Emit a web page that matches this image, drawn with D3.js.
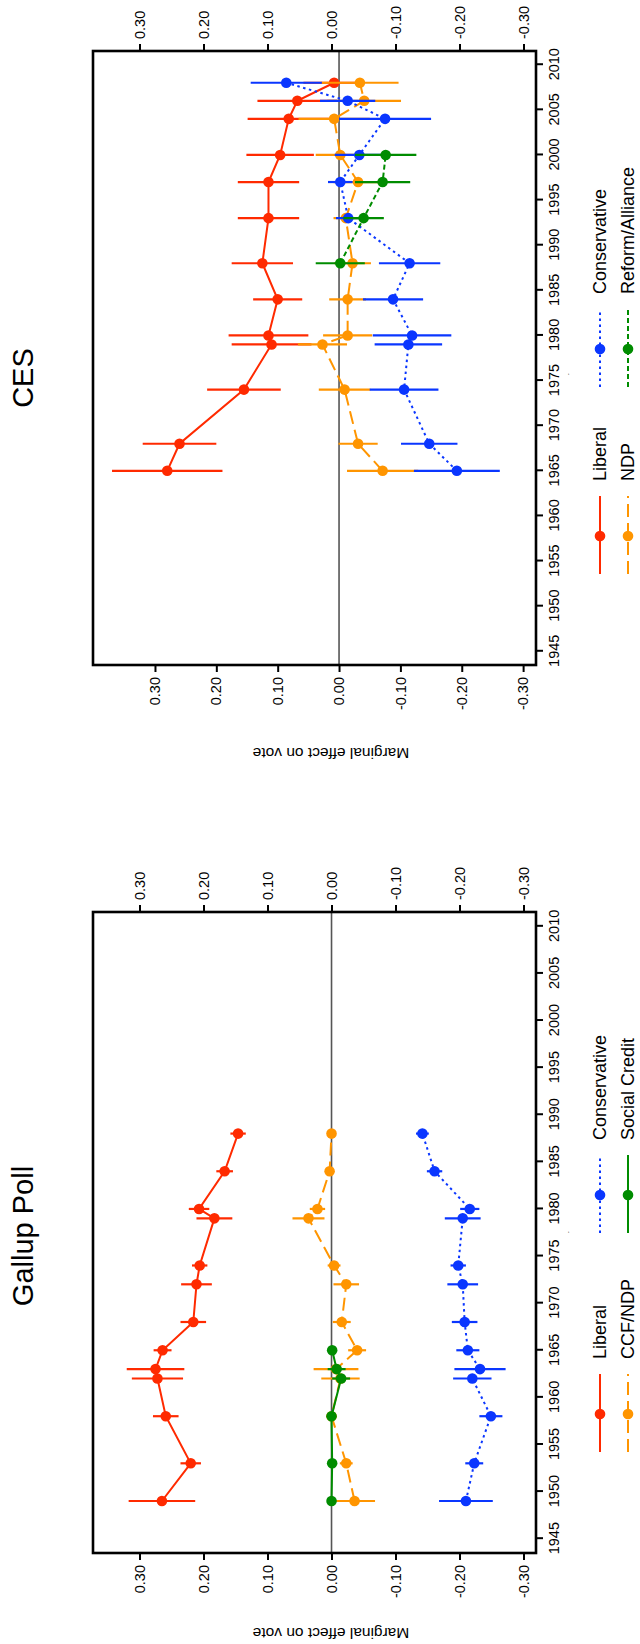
<!DOCTYPE html>
<html>
<head>
<meta charset="utf-8">
<script src="https://cdn.jsdelivr.net/npm/d3@7"></script>
<style>
  html, body { margin: 0; padding: 0; background: #fff; }
  svg { display: block; font-family: "Liberation Sans", Arial, Helvetica, sans-serif; }
</style>
</head>
<body>
<svg id="chart" width="640" height="1644"></svg>
<script>
// The figure is a landscape plot turned a quarter turn counter-clockwise on the page.
// Everything is drawn in landscape coordinates (1644 x 640) inside a rotated group.

// ---- Gallup Poll ----
const galYears = [1949, 1953, 1958, 1962, 1963, 1965, 1968, 1972, 1974, 1979, 1980, 1984, 1988];
const galLiberal   = [0.265, 0.220, 0.259, 0.272, 0.275, 0.264, 0.216, 0.211, 0.206, 0.183, 0.207, 0.167, 0.146];
const galLiberalCI = [0.052, 0.016, 0.020, 0.040, 0.045, 0.014, 0.020, 0.024, 0.012, 0.028, 0.016, 0.013, 0.012];
const galNDP       = [-0.036, -0.023, 0.000, -0.014, -0.007, -0.040, -0.016, -0.023, -0.004, 0.036, 0.022, 0.003, 0.000];
const galNDPCI     = [0.032, 0.010, 0.008, 0.030, 0.035, 0.014, 0.014, 0.020, 0.010, 0.025, 0.012, 0.006, 0.005];
const galCons      = [-0.210, -0.223, -0.249, -0.220, -0.232, -0.213, -0.208, -0.205, -0.198, -0.205, -0.216, -0.161, -0.142];
const galConsCI    = [0.042, 0.014, 0.018, 0.030, 0.040, 0.018, 0.020, 0.024, 0.012, 0.028, 0.015, 0.012, 0.010];
const galSCYears   = [1949, 1953, 1958, 1962, 1963, 1965];
const galSC        = [0.000, -0.001, 0.000, -0.015, -0.008, -0.001];
const galSCCI      = [0.004, 0.004, 0.004, 0.014, 0.014, 0.004];

// ---- CES ----
const cesYears = [1965, 1968, 1974, 1979, 1980, 1984, 1988, 1993, 1997, 2000, 2004, 2006, 2008];
const cesLiberal   = [0.280, 0.260, 0.155, 0.110, 0.115, 0.100, 0.125, 0.115, 0.115, 0.096, 0.082, 0.068, 0.008];
const cesLiberalCI = [0.090, 0.060, 0.060, 0.065, 0.065, 0.040, 0.050, 0.050, 0.050, 0.055, 0.067, 0.065, 0.050];
const cesNDP       = [-0.071, -0.031, -0.009, 0.027, -0.014, -0.014, -0.022, -0.011, -0.031, -0.002, 0.008, -0.041, -0.034];
const cesNDPCI     = [0.058, 0.032, 0.042, 0.040, 0.040, 0.030, 0.030, 0.020, 0.040, 0.040, 0.058, 0.060, 0.063];
const cesCons      = [-0.192, -0.147, -0.106, -0.113, -0.119, -0.088, -0.115, -0.015, -0.002, -0.033, -0.075, -0.014, 0.086];
const cesConsCI    = [0.070, 0.046, 0.056, 0.055, 0.064, 0.049, 0.050, 0.020, 0.020, 0.040, 0.075, 0.045, 0.058];
const cesRefYears  = [1988, 1993, 1997, 2000];
const cesRef       = [-0.002, -0.040, -0.071, -0.076];
const cesRefCI     = [0.040, 0.033, 0.045, 0.050];

const yearTicks  = d3.range(1945, 2011, 5);
const valueTicks = [0.3, 0.2, 0.1, 0.0, -0.1, -0.2, -0.3];

const COLORS = { lib: "#ff2a00", ndp: "#ff9500", cons: "#0a36ff", third: "#008c00" };
const DASH   = { lib: null, ndp: "13,6", cons: "2.5,3.5", sc: null, ref: "5,3" };

const svg = d3.select("#chart");
const root = svg.append("g").attr("transform", "translate(0,1644) rotate(-90)");

function zip(years, est, ci){
  return years.map((yr, i) => ({ year: yr, v: est[i], lo: est[i] - ci[i], hi: est[i] + ci[i] }));
}

function drawPanel(cfg){
  const x = d3.scaleLinear().domain([1943.48, 2011.52]).range(cfg.xRange);
  const y = d3.scaleLinear().domain(cfg.yDomain).range([536, 93]);
  const yRight = d3.scaleLinear().domain(cfg.yRightDomain).range([536, 93]);
  const g = root.append("g");
  const fmt = d => d.toFixed(2);

  // zero reference line
  g.append("line")
    .attr("x1", cfg.xRange[0]).attr("x2", cfg.xRange[1])
    .attr("y1", y(0)).attr("y2", y(0))
    .attr("stroke", "#555").attr("stroke-width", 1.6);

  // series
  const line = d3.line().x(d => x(d.year)).y(d => y(d.v));
  cfg.series.forEach(s => {
    const data = zip(s.years, s.est, s.ci);
    g.append("path").datum(data)
      .attr("d", line)
      .attr("fill", "none")
      .attr("stroke", s.color)
      .attr("stroke-width", 2)
      .attr("stroke-dasharray", s.dash);
    g.selectAll(null).data(data).join("line")
      .attr("x1", d => x(d.year)).attr("x2", d => x(d.year))
      .attr("y1", d => y(d.lo)).attr("y2", d => y(d.hi))
      .attr("stroke", s.color).attr("stroke-width", 2.2);
    g.selectAll(null).data(data).join("circle")
      .attr("cx", d => x(d.year)).attr("cy", d => y(d.v))
      .attr("r", 5.3).attr("fill", s.color);
  });

  // box
  g.append("rect")
    .attr("x", cfg.xRange[0]).attr("y", 93)
    .attr("width", cfg.xRange[1] - cfg.xRange[0]).attr("height", 536 - 93)
    .attr("fill", "none").attr("stroke", "#000").attr("stroke-width", 2.6);

  // axes
  const axB = g.append("g").attr("transform", "translate(0,536)")
    .call(d3.axisBottom(x).tickValues(yearTicks).tickFormat(d3.format("d")).tickSize(7).tickPadding(6));
  const axL = g.append("g").attr("transform", `translate(${cfg.xRange[0]},0)`)
    .call(d3.axisLeft(y).tickValues(valueTicks).tickFormat(fmt).tickSize(7).tickPadding(5));
  const axR = g.append("g").attr("transform", `translate(${cfg.xRange[1]},0)`)
    .call(d3.axisRight(yRight).tickValues(valueTicks).tickFormat(fmt).tickSize(7).tickPadding(5));
  [axB, axL, axR].forEach(a => {
    a.select(".domain").remove();
    a.selectAll(".tick line").attr("stroke", "#000").attr("stroke-width", 2);
    a.selectAll(".tick text").attr("fill", "#000").style("font-size", "14.5px")
      .style("font-family", '"Liberation Sans", Arial, Helvetica, sans-serif');
  });

  // title
  g.append("text")
    .attr("x", cfg.titleX).attr("y", 33)
    .attr("text-anchor", "middle")
    .style("font-size", "29px")
    .text(cfg.title);

  // y axis label
  g.append("text")
    .attr("transform", `translate(${cfg.ylabX},331) rotate(-90)`)
    .attr("text-anchor", "middle")
    .style("font-size", "15.5px")
    .text("Marginal effect on vote");

  // stray dot under the year axis
  g.append("text")
    .attr("x", cfg.titleX + 4).attr("y", 569)
    .attr("text-anchor", "middle")
    .style("font-size", "8px")
    .text(".");

  // legend: two columns, two rows
  cfg.legend.forEach(it => {
    const cx = it.x, cy = it.row === 0 ? 600 : 628;
    g.append("line")
      .attr("x1", cx - 38).attr("x2", cx + 40)
      .attr("y1", cy).attr("y2", cy)
      .attr("stroke", it.color).attr("stroke-width", 2)
      .attr("stroke-dasharray", it.dash);
    g.append("circle").attr("cx", cx).attr("cy", cy).attr("r", 5.3).attr("fill", it.color);
    g.append("text")
      .attr("x", cx + 55).attr("y", cy + 6)
      .style("font-size", "18px")
      .text(it.label);
  });
}

drawPanel({
  title: "Gallup Poll",
  titleX: 408,
  ylabX: 16,
  xRange: [91, 732],
  yDomain: [-0.3195, 0.3727],
  yRightDomain: [-0.3195, 0.3727],
  series: [
    { years: galYears, est: galLiberal, ci: galLiberalCI, color: COLORS.lib, dash: DASH.lib },
    { years: galYears, est: galNDP, ci: galNDPCI, color: COLORS.ndp, dash: DASH.ndp },
    { years: galYears, est: galCons, ci: galConsCI, color: COLORS.cons, dash: DASH.cons },
    { years: galSCYears, est: galSC, ci: galSCCI, color: COLORS.third, dash: DASH.sc }
  ],
  legend: [
    { x: 230, row: 0, label: "Liberal", color: COLORS.lib, dash: DASH.lib },
    { x: 230, row: 1, label: "CCF/NDP", color: COLORS.ndp, dash: DASH.ndp },
    { x: 449, row: 0, label: "Conservative", color: COLORS.cons, dash: DASH.cons },
    { x: 449, row: 1, label: "Social Credit", color: COLORS.third, dash: DASH.sc }
  ]
});

drawPanel({
  title: "CES",
  titleX: 1266,
  ylabX: 896,
  xRange: [979, 1593],
  yDomain: [-0.321, 0.401],
  yRightDomain: [-0.3195, 0.3727],
  series: [
    { years: cesYears, est: cesLiberal, ci: cesLiberalCI, color: COLORS.lib, dash: DASH.lib },
    { years: cesYears, est: cesNDP, ci: cesNDPCI, color: COLORS.ndp, dash: DASH.ndp },
    { years: cesYears, est: cesCons, ci: cesConsCI, color: COLORS.cons, dash: DASH.cons },
    { years: cesRefYears, est: cesRef, ci: cesRefCI, color: COLORS.third, dash: DASH.ref }
  ],
  legend: [
    { x: 1108, row: 0, label: "Liberal", color: COLORS.lib, dash: DASH.lib },
    { x: 1108, row: 1, label: "NDP", color: COLORS.ndp, dash: DASH.ndp },
    { x: 1295, row: 0, label: "Conservative", color: COLORS.cons, dash: DASH.cons },
    { x: 1295, row: 1, label: "Reform/Alliance", color: COLORS.third, dash: DASH.ref }
  ]
});
</script>
</body>
</html>
